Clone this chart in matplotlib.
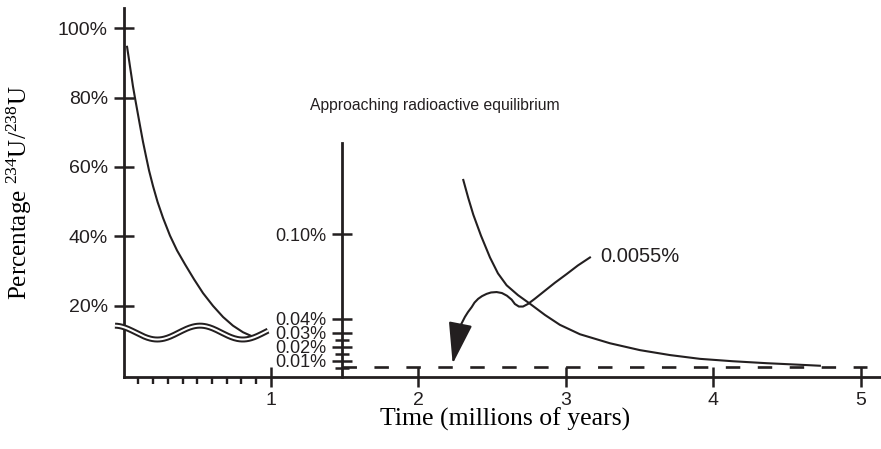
import matplotlib.pyplot as plt
import numpy as np

# early decay, read on the main scale (time in Myr, percent)
early_time = [0.024, 0.034, 0.044, 0.054, 0.064, 0.078, 0.095, 0.112, 0.132, 0.153, 0.173, 0.200,
              0.231, 0.268, 0.315, 0.363, 0.417, 0.478, 0.539, 0.607, 0.675, 0.742, 0.810, 0.878]
early_pct = [94.7, 91.9, 89.0, 86.2, 83.3, 79.9, 75.9, 71.9, 67.3, 63.0, 59.0, 54.5,
             49.9, 45.3, 40.2, 35.9, 31.9, 27.6, 23.6, 19.9, 16.7, 14.2, 12.3, 11.0]

# late decay, read on the expanded inset scale (percent)
late_time = [2.304, 2.338, 2.372, 2.424, 2.485, 2.539, 2.598, 2.675, 2.756, 2.858, 2.959,
             3.095, 3.298, 3.502, 3.705, 3.909, 4.132, 4.363, 4.586, 4.722]
late_pct = [0.1386, 0.1257, 0.1139, 0.0990, 0.0835, 0.0722, 0.0637, 0.0567, 0.0506, 0.0426, 0.0356,
            0.0289, 0.0225, 0.0176, 0.0141, 0.0114, 0.0097, 0.0083, 0.0072, 0.0065]

# equilibrium level
equilibrium_pct = 0.0055
equilibrium_time = [1.48, 5.04]

# hand drawn pointer from the 0.0055% label down to the dashed line
arrow_time = [3.163, 3.081, 3.005, 2.925, 2.858, 2.790, 2.742, 2.709, 2.681, 2.654, 2.632, 2.600,
              2.566, 2.530, 2.492, 2.462, 2.431, 2.405, 2.380, 2.361, 2.336, 2.315, 2.298, 2.281]
arrow_pct = [0.0835, 0.0778, 0.0717, 0.0655, 0.0599, 0.0542, 0.0504, 0.0486, 0.0486, 0.0504, 0.0535, 0.0563,
             0.0582, 0.0589, 0.0586, 0.0576, 0.0560, 0.0541, 0.0514, 0.0482, 0.0447, 0.0412, 0.0377, 0.0342]
arrow_tip = (2.232, 0.0079)

xticks = [1, 2, 3, 4, 5]
x_minor = [0.1, 0.2, 0.3, 0.4, 0.5, 0.6, 0.7, 0.8, 0.9]
main_yticks = [20, 40, 60, 80, 100]
inset_yticks = [0.01, 0.02, 0.03, 0.04, 0.10]
inset_minor = [0.005, 0.015, 0.025]
inset_x = 1.48

ink = '#231f20'
plt.rcParams['font.family'] = ['Liberation Sans', 'DejaVu Sans']
plt.rcParams['mathtext.fontset'] = 'custom'
plt.rcParams['mathtext.rm'] = 'Liberation Serif'
plt.rcParams['lines.scale_dashes'] = False
plt.rcParams['lines.solid_joinstyle'] = 'round'
plt.rcParams['text.color'] = ink
plt.rcParams['xtick.color'] = ink
plt.rcParams['ytick.color'] = ink

fig = plt.figure(figsize=(8.81, 4.49), dpi=100)
rect = [0.1402, 0.161, 0.8587, 0.8212]

# main axes
ax = fig.add_axes(rect)
ax.set_xlim(0, 5.13)
ax.set_ylim(-0.54, 105.9)
for s in ['top', 'right']:
    ax.spines[s].set_visible(False)
for s in ['left', 'bottom']:
    ax.spines[s].set_linewidth(2.0)
    ax.spines[s].set_color(ink)

ax.set_xticks(xticks)
ax.set_xticklabels([str(t) for t in xticks])
ax.set_xticks(x_minor, minor=True)
ax.set_yticks(main_yticks)
ax.set_yticklabels([f'{t}%' for t in main_yticks])
ax.tick_params(axis='both', which='major', direction='inout', length=14.4, width=1.8,
               labelsize=14, pad=4)
ax.tick_params(axis='x', which='minor', direction='out', length=4.8, width=1.7)

ax.plot(early_time, early_pct, color=ink, lw=1.5, zorder=3)

# wavy break mark (double line) across the main axis
wx = np.linspace(-0.058, 0.98, 200)
wy = 12.2 + 2.0 * np.cos(2 * np.pi * (wx - 0.519) / 0.58)
ax.plot(wx, wy, color=ink, lw=4.3, solid_capstyle='butt', clip_on=False, zorder=5)
ax.plot(wx, wy, color='white', lw=1.45, solid_capstyle='butt', clip_on=False, zorder=6)

ax.set_xlabel('Time (millions of years)', family='Liberation Serif', fontsize=18.5)
ax.xaxis.label.set_va('center')
ax.xaxis.set_label_coords(0.5043, -0.116)
ax.set_ylabel(r'Percentage $\mathrm{^{234}}$U/$\mathrm{^{238}}$U', family='Liberation Serif', fontsize=18)
ax.yaxis.label.set_va('center')
ax.yaxis.set_label_coords(-0.1375, 0.498)

# expanded scale near equilibrium
ax2 = fig.add_axes(rect, facecolor='none')
ax2.set_xlim(ax.get_xlim())
ax2.set_ylim(-0.0013, 0.2609)
for s in ['top', 'right', 'bottom']:
    ax2.spines[s].set_visible(False)
ax2.spines['left'].set_position(('data', inset_x))
ax2.spines['left'].set_bounds(-0.0013, 0.165)
ax2.spines['left'].set_linewidth(2.0)
ax2.spines['left'].set_color(ink)
ax2.set_xticks([])
ax2.set_yticks(inset_yticks)
ax2.set_yticklabels([f'{t:.2f}%' for t in inset_yticks])
ax2.set_yticks(inset_minor, minor=True)
ax2.tick_params(axis='y', which='major', direction='inout', length=14.4, width=1.8,
                labelsize=13, pad=3.6)
ax2.tick_params(axis='y', which='minor', direction='inout', length=9.4, width=1.8)

ax2.plot(late_time, late_pct, color=ink, lw=1.5)
ax2.plot(equilibrium_time, [equilibrium_pct, equilibrium_pct], color=ink, lw=1.9,
         dashes=(10.4, 12.6))

ax2.plot(arrow_time, arrow_pct, color=ink, lw=1.5)
ax2.annotate('', xy=arrow_tip, xytext=(arrow_time[-1], arrow_pct[-1]),
             arrowprops=dict(arrowstyle='-|>,head_length=2.6,head_width=0.75',
                             color=ink, lw=1.5, shrinkA=0, shrinkB=0))

ax2.text(3.231, 0.084, '0.0055%', fontsize=14.5, ha='left', va='center')
ax2.text(1.264, 0.1913, 'Approaching radioactive equilibrium', fontsize=11.3,
         ha='left', va='center')

fig.savefig('out.png', dpi=100)
